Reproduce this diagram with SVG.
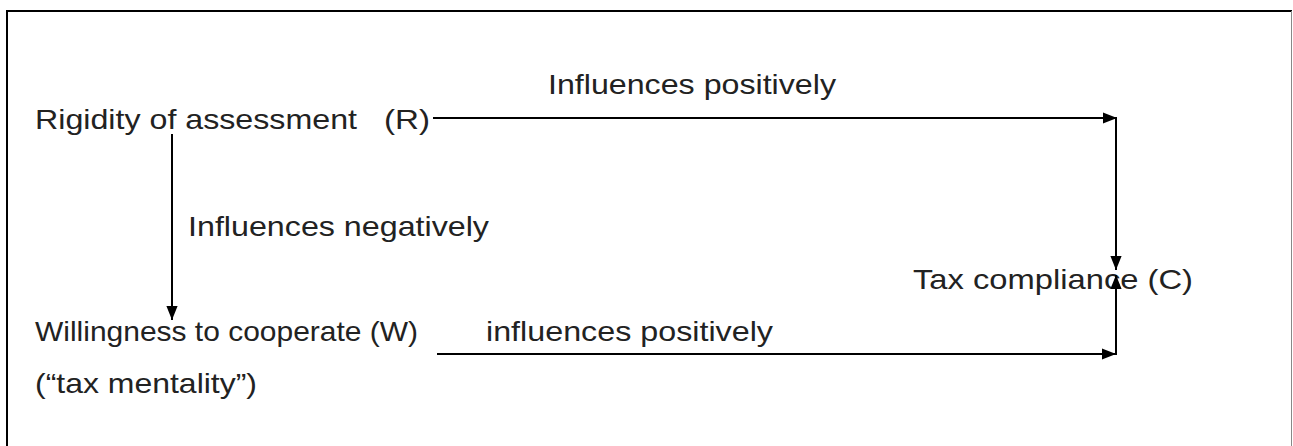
<svg xmlns="http://www.w3.org/2000/svg" width="1293" height="446" viewBox="0 0 1293 446">
  <style>
    .lbl { font-family: "Liberation Sans", Arial, sans-serif; font-size: 28px; fill: #222; }
    .conn { stroke: #000; stroke-width: 2; fill: none; }
  </style>
  <defs>
    <marker id="arrowL" viewBox="0 0 10 10" refX="10" refY="5" markerWidth="14" markerHeight="14" markerUnits="userSpaceOnUse" orient="auto">
      <path d="M0,1 L10,5 L0,9 z" fill="#000"/>
    </marker>
  </defs>
  <rect width="1293" height="446" fill="#fff"/>
  <!-- outer frame -->
  <g id="frame">
    <line x1="7" y1="11" x2="7" y2="446" stroke="#000" stroke-width="2"/>
    <line x1="6" y1="11" x2="1292" y2="11" stroke="#000" stroke-width="2"/>
    <line x1="1291.5" y1="11" x2="1291.5" y2="446" stroke="#888" stroke-width="1"/>
  </g>

  <g id="node-R">
    <text class="lbl" x="35" y="129" textLength="322" lengthAdjust="spacingAndGlyphs">Rigidity of assessment</text>
    <text class="lbl" x="384" y="129" textLength="46" lengthAdjust="spacingAndGlyphs">(R)</text>
  </g>
  <g id="node-W">
    <text class="lbl" x="35" y="341" textLength="383" lengthAdjust="spacingAndGlyphs">Willingness to cooperate (W)</text>
    <text class="lbl" x="35" y="393" textLength="222" lengthAdjust="spacingAndGlyphs">(“tax mentality”)</text>
  </g>
  <g id="node-C">
    <text class="lbl" x="913" y="289" textLength="280" lengthAdjust="spacingAndGlyphs">Tax compliance (C)</text>
  </g>

  <g id="connectors">
    <line class="conn" x1="433" y1="118" x2="1117" y2="118" marker-end="url(#arrowL)"/>
    <line class="conn" x1="1116" y1="117" x2="1116" y2="270" marker-end="url(#arrowL)"/>
    <line class="conn" x1="172" y1="134" x2="172" y2="320" marker-end="url(#arrowL)"/>
    <line class="conn" x1="437" y1="354" x2="1116" y2="354" marker-end="url(#arrowL)"/>
    <line class="conn" x1="1116" y1="355" x2="1116" y2="275" marker-end="url(#arrowL)"/>
    <text class="lbl" x="548" y="94" textLength="288" lengthAdjust="spacingAndGlyphs">Influences positively</text>
    <text class="lbl" x="188" y="236" textLength="301" lengthAdjust="spacingAndGlyphs">Influences negatively</text>
    <text class="lbl" x="486" y="341" textLength="287" lengthAdjust="spacingAndGlyphs">influences positively</text>
  </g>
</svg>
